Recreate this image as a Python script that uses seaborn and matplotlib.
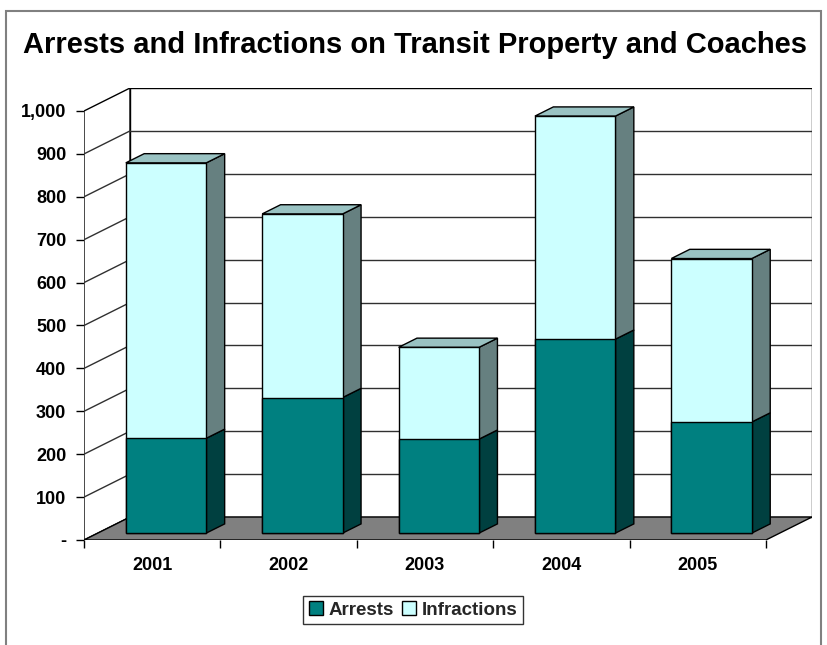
import numpy as np
import pandas as pd
import matplotlib
matplotlib.use("Agg")
import matplotlib.pyplot as plt
import seaborn as sns
from matplotlib.patches import Polygon, Rectangle, Patch

# ---- data ----
years = ["2001", "2002", "2003", "2004", "2005"]
arrests = [221, 316, 219, 452, 259]
infractions = [642, 428, 214, 520, 381]
y_ticks = [0, 100, 200, 300, 400, 500, 600, 700, 800, 900, 1000]
y_tick_labels = ["-", "100", "200", "300", "400", "500", "600", "700", "800", "900", "1,000"]
title = "Arrests and Infractions on Transit Property and Coaches"

# ---- style ----
ARR_FRONT, ARR_SIDE = "#008080", "#004040"
INF_FRONT, INF_SIDE, INF_TOP = "#CCFFFF", "#668080", "#99C2C2"
FLOOR = "#808080"
GRID = "#303030"

sns.set_theme(style="white")
plt.rcParams["font.family"] = ["Liberation Sans", "DejaVu Sans"]
plt.rcParams["font.weight"] = "bold"

W, H = 827, 645
fig = plt.figure(figsize=(W / 100, H / 100), dpi=100)
fig.patch.set_facecolor("white")

# plot box (pixels): front-left corner of floor to back-top corner of wall
left_px, right_px, bottom_px, top_px = 84, 812, 540, 88
ax = fig.add_axes([left_px / W, 1 - bottom_px / H,
                   (right_px - left_px) / W, (bottom_px - top_px) / H])

n = len(years)
YMAX = 1000
DX = 0.3377   # depth of the box along x (category units)
DY = 53.6     # depth of the box along y (value units)
BAR_W = 0.59
BAR_D0, BAR_D1 = 0.3, 0.7   # bar position inside the depth

totals = list(np.add(arrests, infractions))
df = pd.DataFrame({"Year": years, "Total": totals, "Arrests": arrests})

# front faces of the stacked bars
sns.barplot(data=df, x="Year", y="Total", color=INF_FRONT, saturation=1,
            width=BAR_W, edgecolor="black", linewidth=1, ax=ax, zorder=5)
sns.barplot(data=df, x="Year", y="Arrests", color=ARR_FRONT, saturation=1,
            width=BAR_W, edgecolor="black", linewidth=1, ax=ax, zorder=5)
bars = list(ax.patches)
for p in bars:
    p.set_x(p.get_x() + BAR_D0 * DX)
    p.set_y(p.get_y() + BAR_D0 * DY)

# walls and floor
x0w, x1w = -0.5, n - 0.5
ax.add_patch(Polygon([(x0w, 0), (x0w + DX, DY), (x0w + DX, YMAX + DY), (x0w, YMAX)],
                     closed=True, facecolor="white", edgecolor="black", lw=1, zorder=1))
ax.add_patch(Rectangle((x0w + DX, DY), x1w - x0w, YMAX, facecolor="white",
                       edgecolor="black", lw=1, zorder=1))
ax.add_patch(Polygon([(x0w, 0), (x1w, 0), (x1w + DX, DY), (x0w + DX, DY)],
                     closed=True, facecolor=FLOOR, edgecolor="black", lw=1, zorder=2))
for v in y_ticks[1:-1]:
    ax.plot([x0w + DX, x1w + DX], [v + DY, v + DY], color=GRID, lw=1, zorder=1.5)
    ax.plot([x0w, x0w + DX], [v, v + DY], color=GRID, lw=1, zorder=1.5)

# side and top faces
dd = BAR_D1 - BAR_D0
for i in range(n):
    base = BAR_D0 * DY
    xr = i + BAR_W / 2 + BAR_D0 * DX
    xl = i - BAR_W / 2 + BAR_D0 * DX
    a, t = arrests[i] + base, totals[i] + base
    ox, oy = dd * DX, dd * DY
    ax.add_patch(Polygon([(xr, base), (xr + ox, base + oy), (xr + ox, a + oy), (xr, a)],
                         closed=True, facecolor=ARR_SIDE, edgecolor="black", lw=1, zorder=4))
    ax.add_patch(Polygon([(xr, a), (xr + ox, a + oy), (xr + ox, t + oy), (xr, t)],
                         closed=True, facecolor=INF_SIDE, edgecolor="black", lw=1, zorder=4))
    ax.add_patch(Polygon([(xl, t), (xr, t), (xr + ox, t + oy), (xl + ox, t + oy)],
                         closed=True, facecolor=INF_TOP, edgecolor="black", lw=1, zorder=4))

ax.set_xlim(x0w, x1w + DX)
ax.set_ylim(0, YMAX + DY)
for s in ax.spines.values():
    s.set_visible(False)
ax.set_xlabel("")
ax.set_ylabel("")

ax.set_yticks(y_ticks)
ax.set_yticklabels(y_tick_labels)
ax.set_xticks(range(n))
ax.set_xticklabels(years)
ax.set_xticks(np.arange(n + 1) - 0.5, minor=True)
ax.tick_params(axis="y", which="major", left=True, length=5.8, width=1, color="black",
               direction="out", pad=7, labelsize=13, labelcolor="black")
ax.tick_params(axis="x", which="major", bottom=True, length=0, pad=12,
               labelsize=13, labelcolor="black")
ax.tick_params(axis="x", which="minor", bottom=True, length=5.8, width=1, color="black",
               direction="out")
for lab in ax.get_xticklabels() + ax.get_yticklabels():
    lab.set_fontweight("bold")
ax.set_facecolor("none")

# title
fig.text(415 / W, 1 - 45 / H, title, ha="center", va="center",
         fontsize=21, fontweight="bold", color="black")

# legend
handles = [Patch(facecolor=ARR_FRONT, edgecolor="black", lw=1, label="Arrests"),
           Patch(facecolor=INF_FRONT, edgecolor="black", lw=1, label="Infractions")]
leg = fig.legend(handles=handles, loc="center", bbox_to_anchor=(413 / W, 1 - 610 / H),
                 ncol=2, frameon=True, fancybox=False, fontsize=13.5,
                 handlelength=0.75, handleheight=0.75, handletextpad=0.3,
                 columnspacing=0.45, borderpad=0.3, borderaxespad=0)
leg.get_frame().set_edgecolor("black")
leg.get_frame().set_linewidth(1)
for t in leg.get_texts():
    t.set_fontweight("bold")

# chart border (bottom edge runs off the canvas)
fig.patches.append(Rectangle((6 / W, 1 - 652 / H), (821 - 6) / W, (652 - 11) / H,
                             transform=fig.transFigure, fill=False,
                             edgecolor="#808080", lw=1.5))

fig.savefig("out.png", dpi=100)
